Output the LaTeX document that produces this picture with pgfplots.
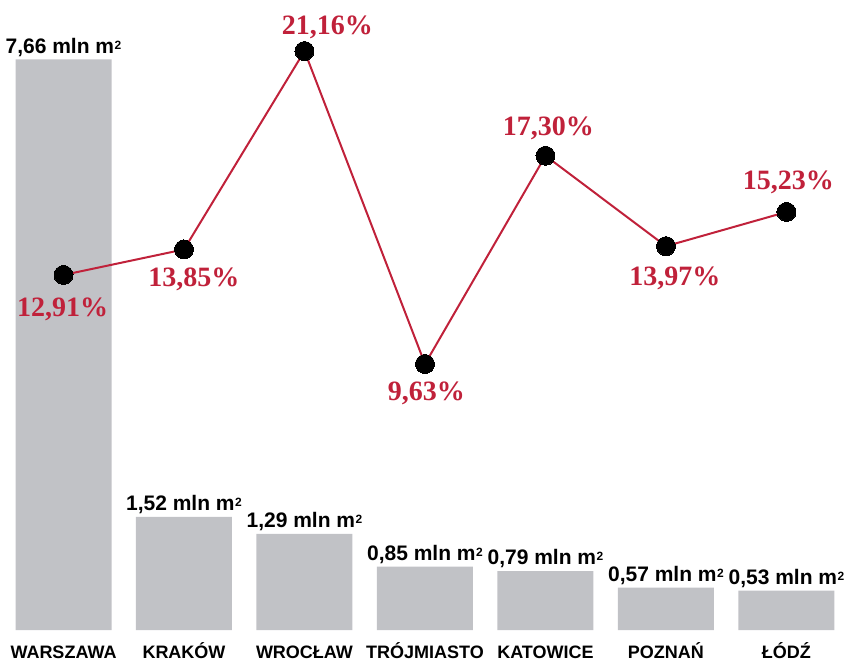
\documentclass[border=0pt]{standalone}
\usepackage{pgfplots}
\pgfplotsset{compat=1.18}
\usepackage{pgfplotstable}
\usepackage{fontspec}
\setmainfont{Liberation Sans}
\newfontfamily\numserif{Liberation Serif}
\definecolor{bargray}{HTML}{C1C2C6}
\definecolor{linered}{HTML}{C0213A}
\newcommand{\sqm}{m\kern0.5pt\raisebox{4pt}{\fontsize{12}{12}\selectfont 2}}

\pgfplotstableread{
x val lab
0 7.66 7,66
1 1.52 1,52
2 1.29 1,29
3 0.85 0,85
4 0.79 0,79
5 0.57 0,57
6 0.53 0,53
}\bardata

\pgfplotstableread{
x y lab dx dy
0 12.91 12,91 -1 -32
1 13.85 13,85 10 -28
2 21.16 21,16 23 26.5
3 9.63 9,63 1.5 -27
4 17.30 17,30 3 30
5 13.97 13,97 9 -30
6 15.23 15,23 2 32
}\linedata

\begin{document}
\begin{tikzpicture}
\begin{axis}[
  at={(0,0)}, anchor=south west,
  scale only axis, width=846pt, height=630pt,
  xmin=-0.527, xmax=6.494, ymin=0, ymax=8.456,
  clip=false,
  axis line style={draw=none},
  major tick length=0pt,
  ytick=\empty,
  xtick={0,...,6},
  xticklabels={WARSZAWA,KRAKÓW,WROCŁAW,TRÓJMIASTO,KATOWICE,POZNAŃ,ŁÓDŹ},
  xticklabel style={font=\fontsize{18}{18}\selectfont\bfseries, anchor=north, inner sep=0pt, text height=13pt, text depth=0pt, yshift=-15pt},
]
\addplot[ybar, bar width=96pt, fill=bargray, draw=none,
  point meta=explicit symbolic,
  nodes near coords={\pgfplotspointmeta{} mln \sqm},
  every node near coord/.append style={font=\fontsize{21}{21}\selectfont\bfseries, text=black, anchor=south, inner sep=0pt, text depth=0pt, yshift=6pt}]
  table[x=x, y=val, meta=lab]{\bardata};
\end{axis}
\begin{axis}[
  at={(0,0)}, anchor=south west,
  scale only axis, width=846pt, height=630pt,
  xmin=-0.527, xmax=6.494, ymin=-0.17, ymax=23.04,
  clip=false, hide axis,
]
\addplot[linered, line width=2pt, mark=*, mark size=9.5pt,
  mark options={fill=black, draw=black, line width=0pt}]
  table[x=x, y=y]{\linedata};
\addplot[draw=none, mark=none,
  point meta=explicit symbolic,
  visualization depends on={\thisrow{dx} \as \dx},
  visualization depends on={\thisrow{dy} \as \dy},
  nodes near coords={\pgfplotspointmeta\%},
  every node near coord/.append style={font=\fontsize{28}{28}\selectfont\numserif\bfseries, text=linered, anchor=center, inner sep=0pt, text height=19pt, text depth=0pt, xshift=\dx pt, yshift=\dy pt}]
  table[x=x, y=y, meta=lab]{\linedata};
\end{axis}
\pgfresetboundingbox
\path[use as bounding box] (0,-32pt) rectangle (846pt,630pt);
\end{tikzpicture}
\end{document}
